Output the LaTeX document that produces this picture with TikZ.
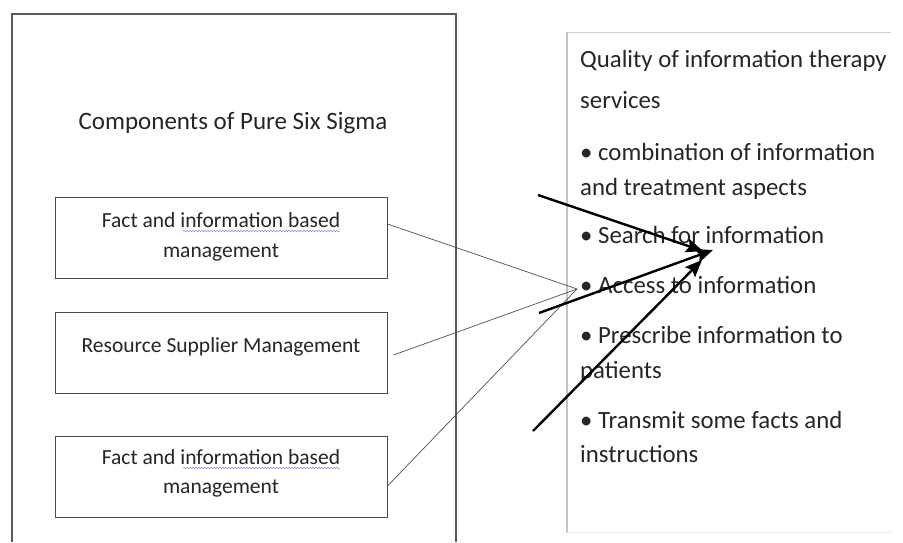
\documentclass[tikz,border=0pt]{standalone}
\usepackage{fontspec}
\setmainfont{Carlito}
\usetikzlibrary{arrows.meta,decorations.pathmorphing}
\definecolor{boxline}{HTML}{4A4A4A}
\definecolor{outerline}{HTML}{5A5A5A}
\definecolor{rightline}{HTML}{C4C4B8}
\definecolor{thinline}{HTML}{505050}
\definecolor{squig}{HTML}{8C8CD8}
\tikzset{
  compbox/.style={draw=boxline, line width=1pt, minimum width=332pt, minimum height=81pt, inner sep=0pt},
  boxtext/.style={anchor=base, inner sep=0pt, font=\fontsize{21.5}{24}\selectfont, text=black!85},
  rtext/.style={anchor=base west, inner sep=0pt, font=\fontsize{24.8}{28}\selectfont, text=black!85},
  thin/.style={draw=thinline, line width=0.7pt},
  bigarrow/.style={draw=black, line width=2.4pt, -{Stealth[length=17pt,width=14pt,inset=3pt]}},
  squiggle/.style={draw=squig, line width=0.5pt, decorate, decoration={snake, amplitude=0.8pt, segment length=3pt}}
}
\begin{document}
\begin{tikzpicture}[x=1pt,y=-1pt]
\useasboundingbox[fill=white] (0,0) rectangle (903,542);
% outer left frame (open at bottom)
\draw[draw=outerline, line width=1.1pt] (12,542) -- (12,14) -- (456,14) -- (456,542);
% right frame
\draw[draw=rightline, line width=2pt] (567,32) -- (567,533);
\draw[draw=rightline!80, line width=1pt] (567,32) -- (891,32);
\draw[draw=rightline!35, line width=1pt] (567,532) -- (891,532);
% title
\node[anchor=base, inner sep=0pt, font=\fontsize{25}{28}\selectfont, text=black!85] (title) at (233,129) {Components of Pure Six Sigma};
% component boxes
\node[compbox] (b1) at (221,237.5) {};
\node[boxtext] (b1a) at (221,227) {Fact and information based};
\node[boxtext] (b1b) at (221,257) {management};
\node[compbox] (b2) at (221,353) {};
\node[boxtext] (b2a) at (221,352) {Resource Supplier Management};
\node[compbox] (b3) at (221,476.5) {};
\node[boxtext] (b3a) at (221,464) {Fact and information based};
\node[boxtext] (b3b) at (221,493) {management};
% spell-check squiggles
\draw[squiggle] (183,231) -- (340,231);
\draw[squiggle] (183,468) -- (340,468);
% right text
\node[rtext] (q1) at (580,67) {Quality of information therapy};
\node[rtext] (q2) at (580,108) {services};
\node[rtext] (q3) at (580,160) {• combination of information};
\node[rtext] (q4) at (580,195) {and treatment aspects};
\node[rtext] (q5) at (580,243) {• Search for information};
\node[rtext] (q6) at (580,293) {• Access to information};
\node[rtext] (q7) at (580,343) {• Prescribe information to};
\node[rtext] (q8) at (580,378) {patients};
\node[rtext] (q9) at (580,428) {• Transmit some facts and};
\node[rtext] (q10) at (580,462) {instructions};
% thin connectors
\coordinate (c) at (577,289);
\draw[thin] ([yshift=13.5pt]b1.east) -- (c);
\draw[thin] ([xshift=6pt,yshift=-2pt]b2.east) -- (c);
\draw[thin] ([yshift=-9.5pt]b3.east) -- (c);
% thick arrows
\coordinate (s1) at (538,195);
\coordinate (s2) at (539,313);
\coordinate (s3) at (533,431);
\coordinate (t1) at (703,251);
\coordinate (t2) at (713,250);
\coordinate (t3) at (702,260);
\draw[bigarrow] (s1) -- (t1);
\draw[bigarrow] (s2) -- (t2);
\draw[bigarrow] (s3) -- (t3);
\end{tikzpicture}
\end{document}
